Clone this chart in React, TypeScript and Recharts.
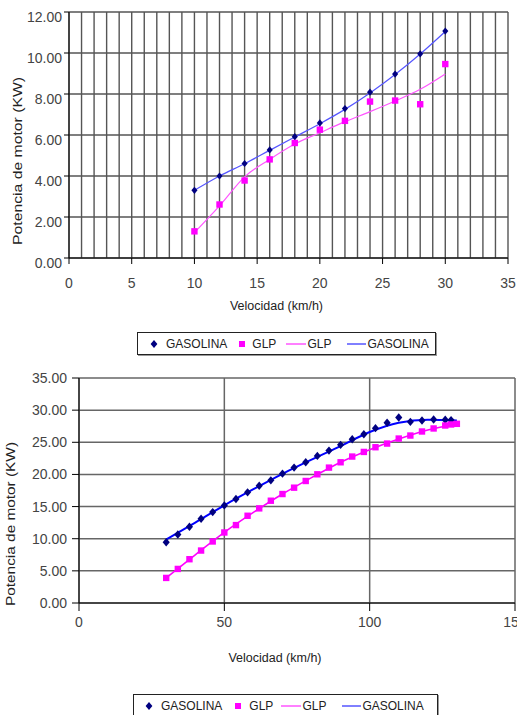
import React from 'react';
import { ComposedChart, Line, XAxis, YAxis, CartesianGrid, Legend, Label } from 'recharts';

const FONT = '"Liberation Sans", Arial, sans-serif';

// ---- grafico 1 (velocidad baja) ----
const topX = [10, 12, 14, 16, 18, 20, 22, 24, 26, 28, 30];
const topGasolina = [3.3, 4.0, 4.61, 5.27, 5.92, 6.59, 7.29, 8.09, 8.97, 9.96, 11.07];
const topGlp = [1.3, 2.61, 3.78, 4.81, 5.61, 6.26, 6.69, 7.63, 7.68, 7.5, 9.46];
const topGasolinaTrend = [3.3, 4.0, 4.6, 5.25, 5.9, 6.55, 7.25, 8.05, 8.95, 9.95, 11.05];
const topGlpTrend = [1.24, 2.54, 3.96, 4.81, 5.56, 6.11, 6.65, 7.14, 7.66, 8.23, 8.98];
const topXTicks = [0, 5, 10, 15, 20, 25, 30, 35];
const topGridTicks = [0, 1, 2, 3, 4, 5, 6, 7, 8, 9, 10, 11, 12, 13, 14, 15, 16, 17, 18, 19, 20, 21, 22, 23, 24, 25, 26, 27, 28, 29, 30, 31, 32, 33, 34, 35];
const topYTicks = [0, 2, 4, 6, 8, 10, 12];

// ---- grafico 2 (velocidad alta) ----
const botGasolinaX = [30, 34, 38, 42, 46, 50, 54, 58, 62, 66, 70, 74, 78, 82, 86, 90, 94, 98, 102, 106, 110, 114, 118, 122, 126, 128];
const botGasolina = [9.46, 10.66, 11.86, 13.1, 14.14, 15.18, 16.17, 17.21, 18.25, 19.08, 20.12, 21.06, 21.89, 22.88, 23.71, 24.6, 25.48, 26.26, 27.2, 28.03, 28.86, 28.18, 28.39, 28.55, 28.5, 28.45];
const botGlpX = [30, 34, 38, 42, 46, 50, 54, 58, 62, 66, 70, 74, 78, 82, 86, 90, 94, 98, 102, 106, 110, 114, 118, 122, 126, 128, 130];
const botGlp = [3.9, 5.3, 6.81, 8.16, 9.57, 10.97, 12.12, 13.57, 14.72, 15.91, 16.95, 17.94, 18.98, 20.02, 21.06, 21.89, 22.78, 23.5, 24.23, 24.8, 25.58, 26.05, 26.68, 27.15, 27.61, 27.77, 27.87];
const botTrendX = [30, 40, 50, 60, 70, 80, 90, 100, 110, 120, 130];
const botGasolinaTrend = [9.88, 12.5, 15.2, 17.7, 20.1, 22.3, 24.4, 26.6, 28.05, 28.5, 28.4];
const botGlpTrend = [3.9, 7.5, 11.0, 14.1, 16.95, 19.5, 21.9, 23.85, 25.5, 26.9, 27.85];
const botXTicks = [0, 50, 100, 150];
const botYTicks = [0, 5, 10, 15, 20, 25, 30, 35];

const legendLabels = ['GASOLINA', 'GLP', 'GLP', 'GASOLINA'];
const xTitle = 'Velocidad (km/h)';
const yTitle = 'Potencia de motor (KW)';

const toPts = (xs: number[], ys: number[]) => xs.map((x, i) => ({ x, y: ys[i] }));

const NAVY = '#000080';
const MAGENTA = '#ff00ff';

const diamondDot = (color: string, r: number) => (p: any) => {
  if (p.cx == null || p.cy == null) return <g key={`d-${p.index}`} />;
  const { cx, cy } = p;
  return (
    <path
      key={`d-${p.index}`}
      d={`M${cx},${cy - r}L${cx + r * 0.85},${cy}L${cx},${cy + r}L${cx - r * 0.85},${cy}Z`}
      fill={color}
    />
  );
};

const squareDot = (color: string, h: number) => (p: any) => {
  if (p.cx == null || p.cy == null) return <g key={`s-${p.index}`} />;
  return <rect key={`s-${p.index}`} x={p.cx - h} y={p.cy - h} width={h * 2} height={h * 2} fill={color} />;
};

// caja de leyenda tipo Excel
const LegendBox = ({ gaps }: { gaps: number[] }) => {
  const txt: React.CSSProperties = { fontFamily: FONT, fontSize: 12, color: '#222', lineHeight: '14px' };
  return (
    <div
      style={{
        border: '1px solid #222',
        boxShadow: '1px 1px 0 #999',
        height: 23,
        display: 'flex',
        alignItems: 'center',
        boxSizing: 'border-box',
        background: '#fff',
      }}
    >
      <svg width={8} height={8} style={{ marginLeft: gaps[0] }}>
        <path d="M4,0L7.4,4L4,8L0.6,4Z" fill={NAVY} />
      </svg>
      <span style={{ ...txt, marginLeft: gaps[1] }}>{legendLabels[0]}</span>
      <svg width={6} height={6} style={{ marginLeft: gaps[2] }}>
        <rect width={6} height={6} fill={MAGENTA} />
      </svg>
      <span style={{ ...txt, marginLeft: gaps[3] }}>{legendLabels[1]}</span>
      <svg width={20} height={4} style={{ marginLeft: gaps[4] }}>
        <line x1={0} y1={2} x2={20} y2={2} stroke={MAGENTA} strokeWidth={1} />
      </svg>
      <span style={{ ...txt, marginLeft: 1 }}>{legendLabels[2]}</span>
      <svg width={19} height={4} style={{ marginLeft: gaps[5] }}>
        <line x1={0} y1={2} x2={19} y2={2} stroke="#0000ff" strokeWidth={1} />
      </svg>
      <span style={{ ...txt, marginLeft: 1 }}>{legendLabels[3]}</span>
    </div>
  );
};

const xTitleContent = (dx: number, dy: number) => (props: any) => {
  const vb = props.viewBox;
  return (
    <text x={vb.x + vb.width / 2 + dx} y={vb.y + dy} textAnchor="middle" fontFamily={FONT} fontSize={12.5} fill="#222">
      {xTitle}
    </text>
  );
};

const yTitleContent = (x: number, dy: number, len: number) => (props: any) => {
  const vb = props.viewBox;
  const cy = vb.y + vb.height / 2 + dy;
  return (
    <text
      x={x}
      y={cy}
      transform={`rotate(-90 ${x} ${cy})`}
      textAnchor="middle"
      fontFamily={FONT}
      fontSize={13}
      fill="#222"
      textLength={len}
      lengthAdjust="spacingAndGlyphs"
    >
      {yTitle}
    </text>
  );
};

const tickStyle = { fontFamily: FONT, fontSize: 14, fill: '#444' };

export default function App() {
  return (
    <div style={{ position: 'absolute', left: 0, top: 0, width: 517, height: 715, background: '#fff', overflow: 'hidden' }}>
      <ComposedChart width={517} height={362} margin={{ top: 12, right: 9, bottom: 44, left: 0 }}>
        {/* rejilla vertical de 1 en 1, etiquetas de 5 en 5 */}
        <CartesianGrid verticalValues={topGridTicks} stroke="#555" strokeWidth={1.4} />
        <XAxis
          type="number"
          dataKey="x"
          domain={[0, 35]}
          ticks={topXTicks}
          interval={0}
          height={60}
          tickSize={6}
          tickMargin={14}
          tick={tickStyle}
          axisLine={{ stroke: '#000' }}
          tickLine={{ stroke: '#000' }}
        >
          <Label content={xTitleContent(-12, 52)} />
        </XAxis>
        <YAxis
          type="number"
          domain={[0, 12]}
          ticks={topYTicks}
          interval={0}
          width={69}
          tickSize={5}
          tickMargin={2}
          tick={{ ...tickStyle, dy: 5 }}
          tickFormatter={(v: number) => v.toFixed(2)}
          axisLine={{ stroke: '#000' }}
          tickLine={{ stroke: '#000' }}
        >
          <Label content={yTitleContent(22, 26, 168)} />
        </YAxis>
        <Line data={toPts(topX, topGlpTrend)} dataKey="y" type="monotone" stroke="#ff55ff" strokeWidth={1.2} dot={false} activeDot={false} legendType="none" isAnimationActive={false} />
        <Line data={toPts(topX, topGasolinaTrend)} dataKey="y" type="monotone" stroke="#5555ff" strokeWidth={1.2} dot={false} activeDot={false} legendType="none" isAnimationActive={false} />
        <Line data={toPts(topX, topGasolina)} dataKey="y" stroke="none" dot={diamondDot(NAVY, 3.6)} activeDot={false} legendType="none" isAnimationActive={false} />
        <Line data={toPts(topX, topGlp)} dataKey="y" stroke="none" dot={squareDot(MAGENTA, 3.2)} activeDot={false} legendType="none" isAnimationActive={false} />
        <Legend
          verticalAlign="middle"
          align="center"
          wrapperStyle={{ top: 332, left: 137, width: 299 }}
          content={() => <LegendBox gaps={[12, 8, 12, 7, 10, 16]} />}
        />
      </ComposedChart>

      <ComposedChart width={517} height={353} margin={{ top: 16, right: 2, bottom: 42, left: 0 }}>
        <CartesianGrid stroke="#666" strokeWidth={1.5} />
        <XAxis
          type="number"
          dataKey="x"
          domain={[0, 150]}
          ticks={botXTicks}
          interval={0}
          height={70}
          tickSize={8}
          tickMargin={6}
          tick={tickStyle}
          axisLine={{ stroke: '#000' }}
          tickLine={{ stroke: '#000' }}
        >
          <Label content={xTitleContent(-22, 59)} />
        </XAxis>
        <YAxis
          type="number"
          domain={[0, 35]}
          ticks={botYTicks}
          interval={0}
          width={79}
          tickSize={7}
          tickMargin={5}
          tick={tickStyle}
          tickFormatter={(v: number) => v.toFixed(2)}
          axisLine={{ stroke: '#000' }}
          tickLine={{ stroke: '#000' }}
        >
          <Label content={yTitleContent(15, 33.5, 164)} />
        </YAxis>
        <Line data={toPts(botTrendX, botGlpTrend)} dataKey="y" type="monotone" stroke={MAGENTA} strokeWidth={1.6} dot={false} activeDot={false} legendType="none" isAnimationActive={false} />
        <Line data={toPts(botTrendX, botGasolinaTrend)} dataKey="y" type="monotone" stroke="#0000ff" strokeWidth={2} dot={false} activeDot={false} legendType="none" isAnimationActive={false} />
        <Line data={toPts(botGasolinaX, botGasolina)} dataKey="y" stroke="none" dot={diamondDot(NAVY, 4.2)} activeDot={false} legendType="none" isAnimationActive={false} />
        <Line data={toPts(botGlpX, botGlp)} dataKey="y" stroke="none" dot={squareDot(MAGENTA, 3.2)} activeDot={false} legendType="none" isAnimationActive={false} />
        <Legend
          verticalAlign="middle"
          align="center"
          wrapperStyle={{ top: 332, left: 133, width: 305 }}
          content={() => <LegendBox gaps={[11, 8, 13, 8, 8, 16]} />}
        />
      </ComposedChart>
    </div>
  );
}
